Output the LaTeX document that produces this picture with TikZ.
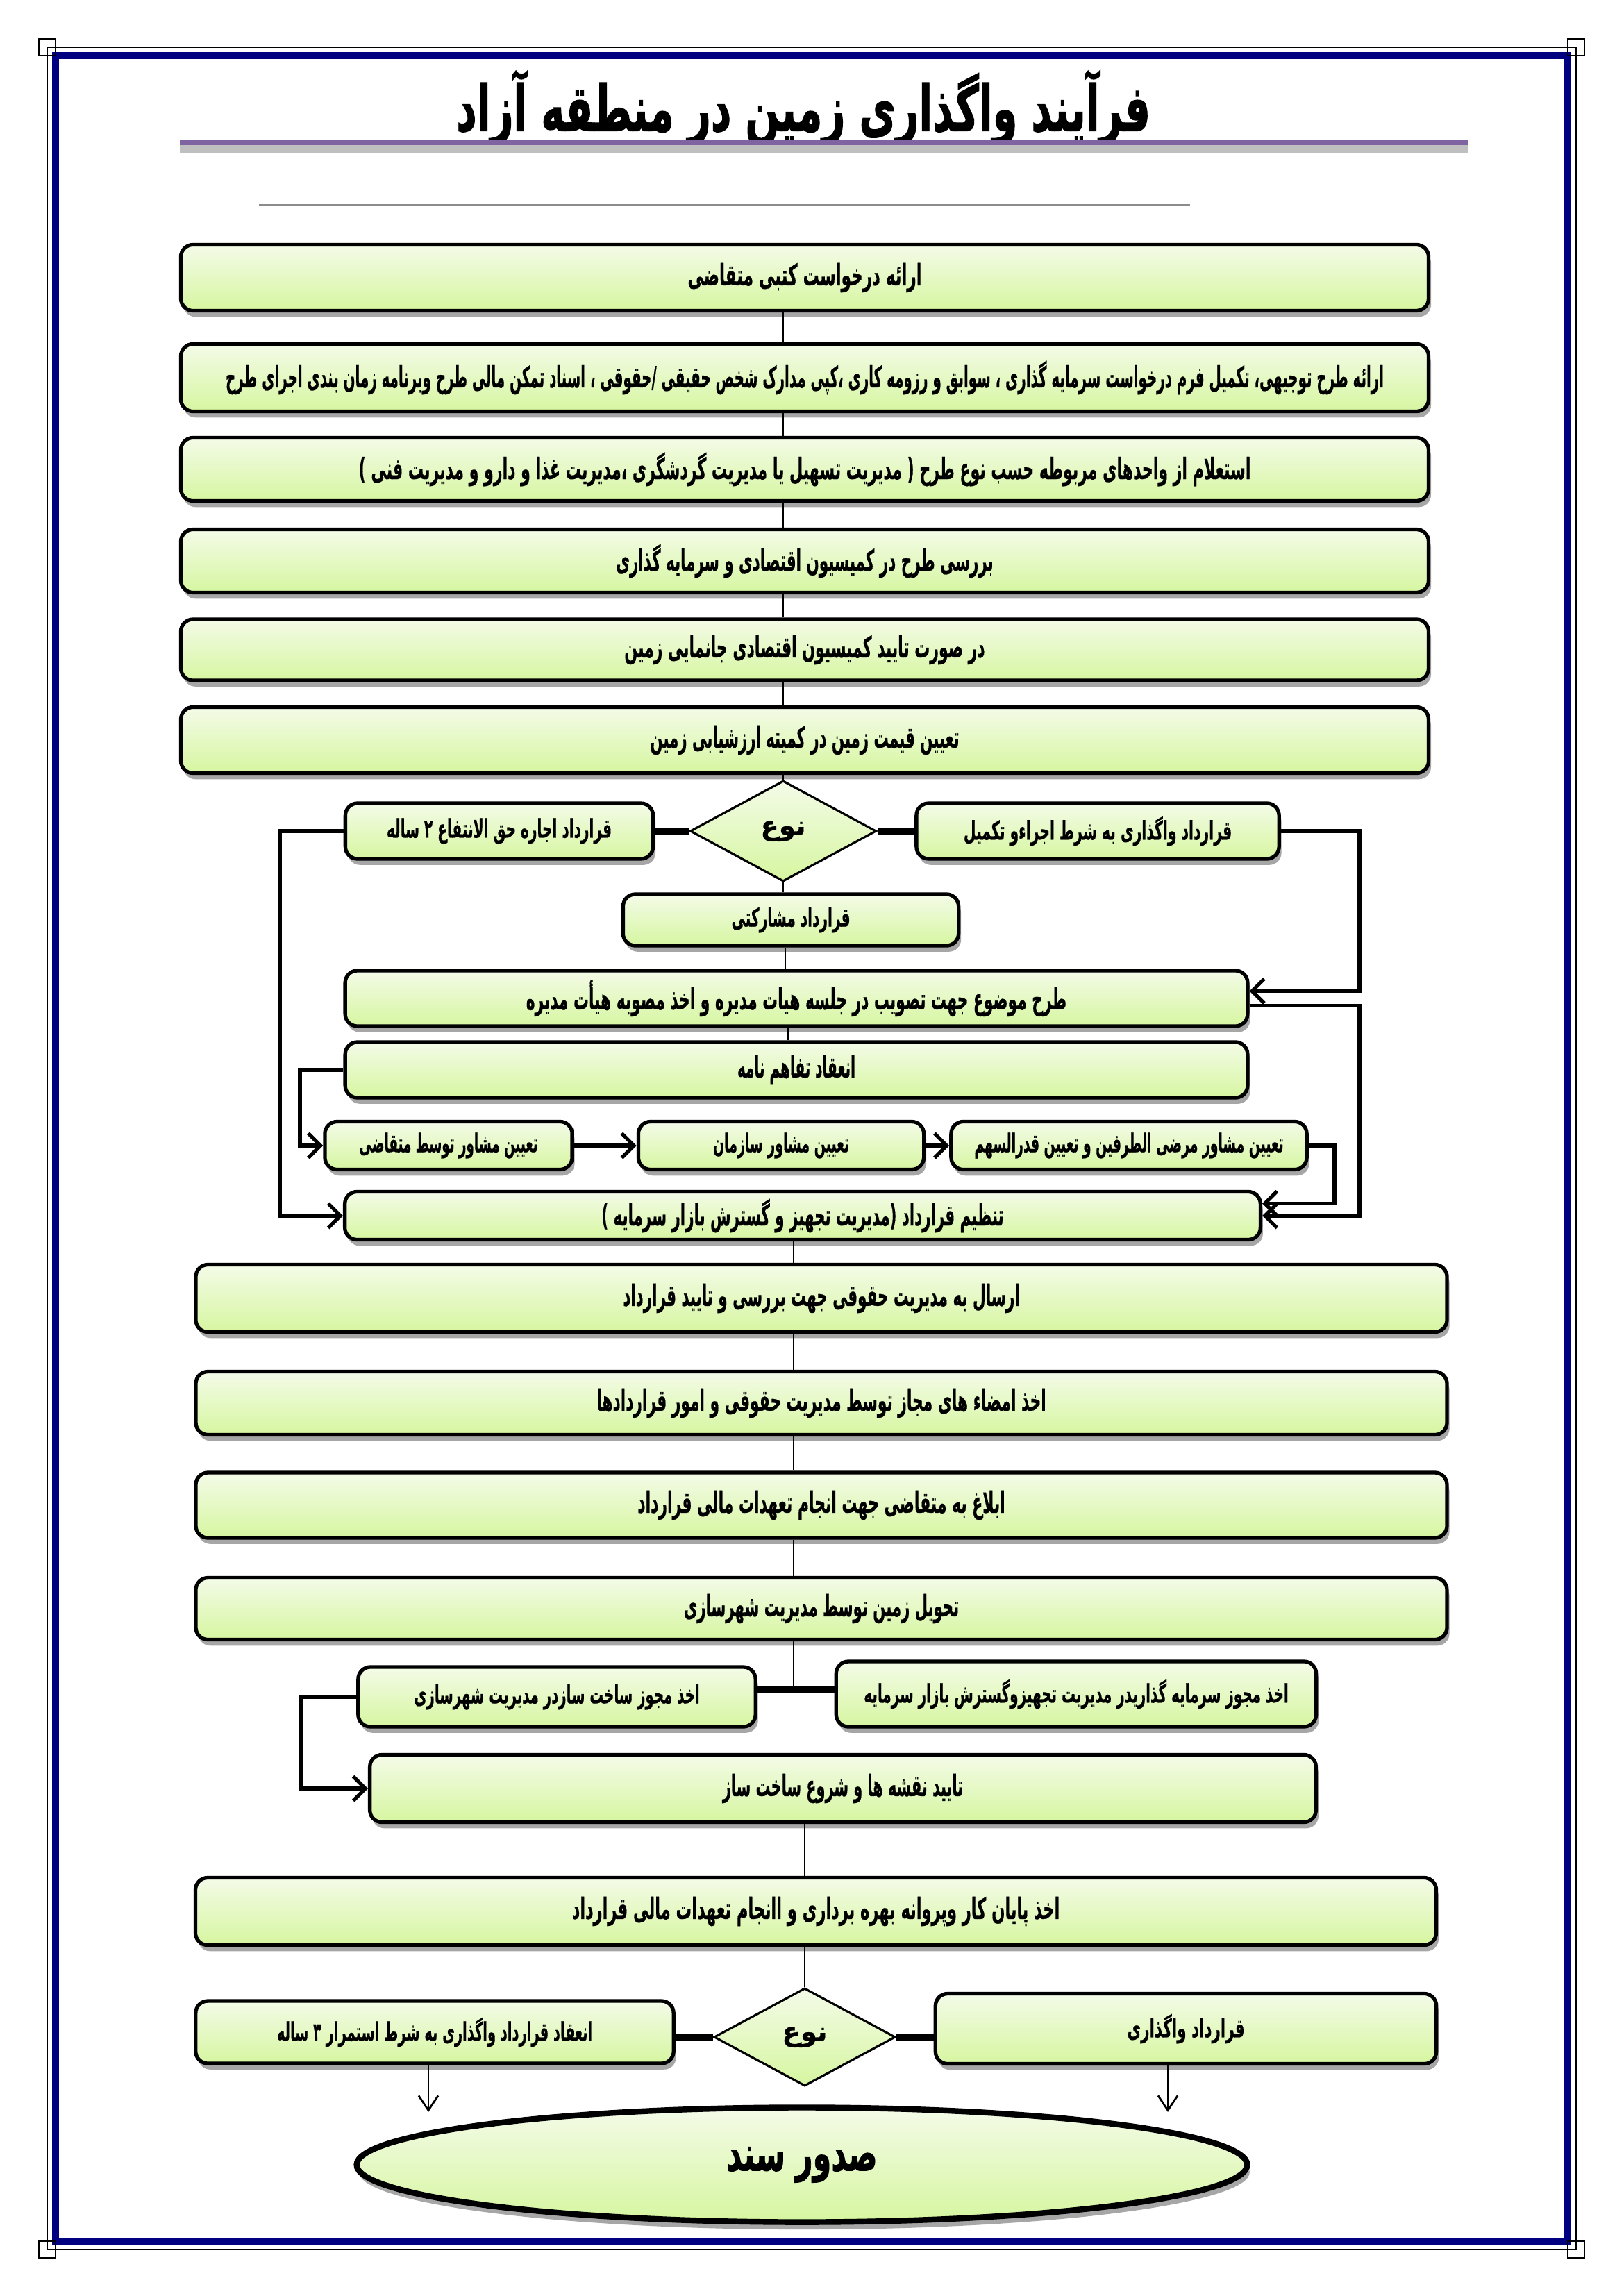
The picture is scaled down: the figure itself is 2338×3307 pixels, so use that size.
\documentclass[tikz,border=0pt]{standalone}
\usepackage{fontspec}
\usepackage{graphicx}
\usetikzlibrary{shapes.geometric,shadows,arrows.meta}
\TeXXeTstate=1
\newfontfamily\fa[Script=Arabic,BoldFeatures={FakeBold=0.6}]{DejaVu Sans}
\newfontfamily\fah[Script=Arabic,BoldFeatures={FakeBold=1.6}]{DejaVu Sans}
\definecolor{boxtop}{RGB}{244,251,232}
\definecolor{boxbot}{RGB}{214,246,160}
\definecolor{navy}{RGB}{0,0,128}
\definecolor{titlepurple}{RGB}{128,100,162}
\newcommand\rtx[2]{\resizebox{#1}{\height}{#2}}
\tikzset{
  box/.style={rectangle, rounded corners=5pt, draw=black, line width=1.5pt,
    shading=axis, top color=boxtop, bottom color=boxbot,
    drop shadow={shadow xshift=1pt, shadow yshift=-2.5pt, opacity=0.35, fill=black},
    inner sep=0pt, align=center, font=\fa\bfseries\fontsize{12}{14}\selectfont},
  sbox/.style={box, font=\fa\bfseries\fontsize{10.5}{12}\selectfont},
  dia/.style={diamond, draw=black, line width=0.9pt, shading=axis, top color=boxtop,
    bottom color=boxbot, inner sep=0pt, font=\fa\bfseries\fontsize{11}{13}\selectfont},
  ell/.style={ellipse, draw=black, line width=2.4pt, shading=axis, top color=boxtop,
    bottom color=boxbot, drop shadow={shadow xshift=1pt, shadow yshift=-3pt, opacity=0.35, fill=black},
    inner sep=0pt, font=\fah\bfseries\fontsize{20}{24}\selectfont},
  spine/.style={draw=black, line width=0.8pt},
  link/.style={draw=black, line width=1.5pt},
  fat/.style={draw=black, line width=2.6pt},
  arr/.style={-{Straight Barb[length=5pt,width=10pt]}},
  tarr/.style={-{Straight Barb[length=6pt,width=8pt]}}
}
\begin{document}
\begin{tikzpicture}[x=0.01cm,y=-0.01cm]
\useasboundingbox (0,0) rectangle (2338,3307);
\fill[white] (0,0) rectangle (2338,3307);
% page border
\draw[black, line width=0.6pt] (68,68) rectangle (2270,3240);
\draw[navy, line width=2.8pt] (80,80) rectangle (2258,3228);
\foreach \cx/\cy in {68/68,2270/68,68/3240,2270/3240}{
  \draw[black, line width=0.6pt] (\cx-12,\cy-12) rectangle (\cx+12,\cy+12);
}
% title
\node[font=\fah\bfseries\fontsize{26}{30}\selectfont] (title) at (1157,156)
  {\rtx{9.99cm}{\beginR فرآیند واگذاری زمین در منطقه آزاد\endR}};
\draw[black!25, line width=4pt] (259,214) -- (2114,214);
\draw[titlepurple, line width=2pt] (259,205) -- (2114,205);
\draw[black!45, line width=0.6pt] (373,295) -- (1714,295);

% main column
\node[box, minimum width=17.96cm, minimum height=0.95cm] (b1) at (1159,400)
  {\rtx{3.37cm}{\beginR ارائه درخواست کتبی متقاضی\endR}};
\node[box, minimum width=17.96cm, minimum height=0.97cm] (b2) at (1159,544)
  {\rtx{16.67cm}{\beginR ارائه طرح توجیهی، تکمیل فرم درخواست سرمایه گذاری ، سوابق و رزومه کاری ،کپی مدارک شخص حقیقی /حقوقی ، اسناد تمکن مالی طرح وبرنامه زمان بندی اجرای طرح\endR}};
\node[box, minimum width=17.96cm, minimum height=0.91cm] (b3) at (1159,676)
  {\rtx{12.84cm}{\beginR استعلام از واحدهای مربوطه حسب نوع طرح ( مدیریت تسهیل یا مدیریت گردشگری ،مدیریت غذا و دارو و مدیریت فنی )\endR}};
\node[box, minimum width=17.96cm, minimum height=0.91cm] (b4) at (1159,808)
  {\rtx{5.43cm}{\beginR بررسی طرح در کمیسیون اقتصادی و سرمایه گذاری\endR}};
\node[box, minimum width=17.96cm, minimum height=0.88cm] (b5) at (1159,936)
  {\rtx{5.19cm}{\beginR در صورت تایید کمیسیون اقتصادی جانمایی زمین\endR}};
\node[box, minimum width=17.96cm, minimum height=0.95cm] (b6) at (1159,1066)
  {\rtx{4.45cm}{\beginR تعیین قیمت زمین در کمیته ارزشیابی زمین\endR}};

\node[dia, minimum width=2.68cm, minimum height=1.45cm] (d1) at (1128,1197) {\beginR نوع\endR};
\node[sbox, minimum width=4.43cm, minimum height=0.80cm] (l1) at (719,1197)
  {\rtx{3.24cm}{\beginR قرارداد اجاره حق الانتفاع ۲ ساله\endR}};
\node[sbox, minimum width=5.22cm, minimum height=0.80cm] (r1) at (1581,1197)
  {\rtx{3.86cm}{\beginR قرارداد واگذاری به شرط اجراءو تکمیل\endR}};
\node[sbox, minimum width=4.83cm, minimum height=0.74cm] (m1) at (1139,1325)
  {\rtx{1.71cm}{\beginR قرارداد مشارکتی\endR}};

\node[box, minimum width=12.99cm, minimum height=0.80cm] (b7) at (1147,1438)
  {\rtx{7.78cm}{\beginR طرح موضوع جهت تصویب در جلسه هیات مدیره و اخذ مصوبه هیأت مدیره\endR}};
\node[box, minimum width=12.99cm, minimum height=0.80cm] (b8) at (1147,1541)
  {\rtx{1.70cm}{\beginR انعقاد تفاهم نامه\endR}};

\node[sbox, minimum width=3.56cm, minimum height=0.69cm] (ca) at (646,1650)
  {\rtx{2.57cm}{\beginR تعیین مشاور توسط متقاضی\endR}};
\node[sbox, minimum width=4.11cm, minimum height=0.69cm] (cb) at (1125,1650)
  {\rtx{1.96cm}{\beginR تعیین مشاور سازمان\endR}};
\node[sbox, minimum width=5.12cm, minimum height=0.69cm] (cc) at (1626,1650)
  {\rtx{4.45cm}{\beginR تعیین مشاور مرضی الطرفین و تعیین قدرالسهم\endR}};

\node[box, minimum width=13.18cm, minimum height=0.69cm] (b9) at (1156,1751)
  {\rtx{5.79cm}{\beginR تنظیم قرارداد (مدیریت تجهیز و گسترش بازار سرمایه )\endR}};

\node[box, minimum width=18.01cm, minimum height=0.97cm] (b10) at (1183,1870)
  {\rtx{5.71cm}{\beginR ارسال به مدیریت حقوقی جهت بررسی و تایید قرارداد\endR}};
\node[box, minimum width=18.01cm, minimum height=0.91cm] (b11) at (1183,2021)
  {\rtx{6.47cm}{\beginR اخذ امضاء های مجاز توسط مدیریت حقوقی و امور قراردادها\endR}};
\node[box, minimum width=18.01cm, minimum height=0.94cm] (b12) at (1183,2168)
  {\rtx{5.29cm}{\beginR ابلاغ به متقاضی جهت انجام تعهدات مالی قرارداد\endR}};
\node[box, minimum width=18.01cm, minimum height=0.89cm] (b13) at (1183,2317)
  {\rtx{3.96cm}{\beginR تحویل زمین توسط مدیریت شهرسازی\endR}};

\node[sbox, minimum width=5.72cm, minimum height=0.86cm] (b14) at (802,2444)
  {\rtx{4.11cm}{\beginR اخذ مجوز ساخت سازدر مدیریت شهرسازی\endR}};
\node[sbox, minimum width=6.91cm, minimum height=0.94cm] (b15) at (1550,2440)
  {\rtx{6.11cm}{\beginR اخذ مجوز سرمایه گذاریدر مدیریت تجهیزوگسترش بازار سرمایه\endR}};
\node[box, minimum width=13.62cm, minimum height=0.97cm] (b16) at (1214,2576)
  {\rtx{3.46cm}{\beginR تایید نقشه ها و شروع ساخت ساز\endR}};
\node[box, minimum width=17.86cm, minimum height=0.97cm] (b17) at (1175,2753)
  {\rtx{7.02cm}{\beginR اخذ پایان کار  وپروانه بهره برداری و اانجام تعهدات مالی قرارداد\endR}};

\node[dia, minimum width=2.61cm, minimum height=1.41cm] (d2) at (1159,2934) {\beginR نوع\endR};
\node[sbox, minimum width=6.88cm, minimum height=0.90cm] (b18) at (626,2927)
  {\rtx{4.54cm}{\beginR انعقاد قرارداد واگذاری به شرط استمرار ۳ ساله\endR}};
\node[sbox, minimum width=7.21cm, minimum height=1.01cm] (b19) at (1708,2922)
  {\rtx{1.69cm}{\beginR قرارداد واگذاری\endR}};
\node[ell, minimum width=12.82cm, minimum height=1.65cm] (e1) at (1155,3118)
  {\rtx{2.17cm}{\beginR صدور سند\endR}};

% connector coordinates
\coordinate (s1) at (1128,0);
\coordinate (s2) at (1131,0);
\coordinate (s3) at (1135,0);
\coordinate (s4) at (1143,0);
\coordinate (s5) at (1159,0);
\coordinate (jy) at (0,2433);
\coordinate (xL) at (403,0);
\coordinate (xL2) at (432,0);
\coordinate (xL3) at (433,0);
\coordinate (xR) at (1958,0);
\coordinate (xC) at (1922,0);
\coordinate (b7u) at ([yshift=3pt]b7.east);
\coordinate (b7d) at ([yshift=-3pt]b7.east);
\coordinate (b9u) at ([yshift=5pt]b9.east);
\coordinate (t1) at (617,3042);
\coordinate (t2) at (1682,3042);

\draw[spine] (b1.south -| s1) -- (b2.north -| s1);
\draw[spine] (b2.south -| s1) -- (b3.north -| s1);
\draw[spine] (b3.south -| s1) -- (b4.north -| s1);
\draw[spine] (b4.south -| s1) -- (b5.north -| s1);
\draw[spine] (b5.south -| s1) -- (b6.north -| s1);
\draw[spine] (b6.south -| s1) -- (d1.north);
\draw[fat] (d1.west) -- (l1.east);
\draw[fat] (d1.east) -- (r1.west);
\draw[spine] (d1.south) -- (m1.north -| d1.south);
\draw[spine] (m1.south -| s2) -- (b7.north -| s2);
\draw[spine] (b7.south -| s3) -- (b8.north -| s3);
% left long loop
\draw[link,arr] (l1.west) -- (l1.west -| xL) -- (xL |- b9.west) -- (b9.west);
% right loop
\draw[link,arr] (r1.east) -- (r1.east -| xR) -- (xR |- b7u) -- (b7u);
\draw[link,arr] (b7d) -- (b7d -| xR) -- (xR |- b9.east) -- (b9.east);
% consultants
\draw[link,arr] (b8.west) -- (b8.west -| xL2) -- (xL2 |- ca.west) -- (ca.west);
\draw[link,arr] (ca.east) -- (cb.west);
\draw[link,arr] (cb.east) -- (cc.west);
\draw[link,arr] (cc.east) -- (cc.east -| xC) -- (xC |- b9u) -- (b9u);
% lower column
\draw[spine] (b9.south -| s4) -- (b10.north -| s4);
\draw[spine] (b10.south -| s4) -- (b11.north -| s4);
\draw[spine] (b11.south -| s4) -- (b12.north -| s4);
\draw[spine] (b12.south -| s4) -- (b13.north -| s4);
\draw[spine] (b13.south -| s4) -- (s4 |- jy);
\draw[fat] (b14.east |- jy) -- (b15.west |- jy);
\draw[link,arr] (b14.west) -- (b14.west -| xL3) -- (xL3 |- b16.west) -- (b16.west);
\draw[spine] (b16.south -| s5) -- (b17.north -| s5);
\draw[spine] (b17.south -| s5) -- (d2.north);
\draw[fat] (d2.west) -- (b18.east |- d2.west);
\draw[fat] (d2.east) -- (b19.west |- d2.east);
\draw[spine,tarr] (b18.south -| t1) -- (t1);
\draw[spine,tarr] (b19.south -| t2) -- (t2);
\end{tikzpicture}
\end{document}
